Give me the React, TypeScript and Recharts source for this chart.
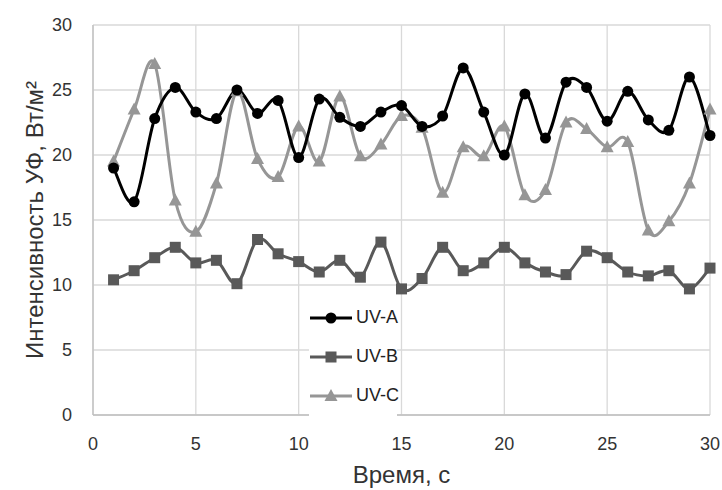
import { CartesianGrid, Legend, Line, LineChart, XAxis, YAxis } from "recharts";

const time = [1, 2, 3, 4, 5, 6, 7, 8, 9, 10, 11, 12, 13, 14, 15, 16, 17, 18, 19, 20, 21, 22, 23, 24, 25, 26, 27, 28, 29, 30];
const uvA = [19.0, 16.4, 22.8, 25.2, 23.3, 22.8, 25.0, 23.2, 24.2, 19.8, 24.3, 22.9, 22.2, 23.3, 23.8, 22.2, 23.0, 26.7, 23.3, 20.0, 24.7, 21.3, 25.6, 25.2, 22.6, 24.9, 22.7, 21.9, 26.0, 21.5];
const uvB = [10.4, 11.1, 12.1, 12.9, 11.7, 11.9, 10.1, 13.5, 12.4, 11.8, 11.0, 11.9, 10.6, 13.3, 9.7, 10.5, 12.9, 11.1, 11.7, 12.9, 11.7, 11.0, 10.8, 12.6, 12.1, 11.0, 10.7, 11.1, 9.7, 11.3];
const uvC = [19.5, 23.5, 27.0, 16.5, 14.1, 17.8, 24.9, 19.7, 18.3, 22.2, 19.5, 24.5, 19.9, 20.8, 23.0, 22.1, 17.1, 20.6, 19.9, 22.2, 16.9, 17.3, 22.5, 22.0, 20.6, 21.0, 14.2, 14.9, 17.8, 23.5];
const xTicks = [0, 5, 10, 15, 20, 25, 30];
const yTicks = [0, 5, 10, 15, 20, 25, 30];

const data = time.map((t, i) => ({ t, a: uvA[i], b: uvB[i], c: uvC[i] }));

const FONT = "'Liberation Sans', Arial, sans-serif";

// Excel-like smoothed line (Catmull-Rom style bezier)
function excelCurve(context: any) {
  let xs: number[] = [];
  let ys: number[] = [];
  return {
    areaStart() {},
    areaEnd() {},
    lineStart() {
      xs = [];
      ys = [];
    },
    point(x: number, y: number) {
      xs.push(+x);
      ys.push(+y);
    },
    lineEnd() {
      const n = xs.length;
      if (!n) return;
      context.moveTo(xs[0], ys[0]);
      for (let i = 0; i < n - 1; i++) {
        const p = i > 0 ? i - 1 : i;
        const q = i + 2 < n ? i + 2 : i + 1;
        const c1x = xs[i] + (xs[i + 1] - xs[p]) / 6;
        const c1y = ys[i] + (ys[i + 1] - ys[p]) / 6;
        const c2x = xs[i + 1] - (xs[q] - xs[i]) / 6;
        const c2y = ys[i + 1] - (ys[q] - ys[i]) / 6;
        context.bezierCurveTo(c1x, c1y, c2x, c2y, xs[i + 1], ys[i + 1]);
      }
    },
  };
}

const COLORS = { a: "#000000", b: "#595959", c: "#969696" };

function CircleDot({ cx, cy, fill }: any) {
  if (cx == null || cy == null) return null;
  return <circle cx={cx} cy={cy} r={5.5} fill={fill} />;
}

function SquareDot({ cx, cy, fill }: any) {
  if (cx == null || cy == null) return null;
  return <rect x={cx - 5.5} y={cy - 5.5} width={11} height={11} fill={fill} />;
}

function TriangleDot({ cx, cy, fill }: any) {
  if (cx == null || cy == null) return null;
  return <polygon points={`${cx},${cy - 7} ${cx + 6.5},${cy + 5} ${cx - 6.5},${cy + 5}`} fill={fill} />;
}

const legendItems = [
  { name: "UV-A", color: COLORS.a, Dot: CircleDot },
  { name: "UV-B", color: COLORS.b, Dot: SquareDot },
  { name: "UV-C", color: COLORS.c, Dot: TriangleDot },
];

function LegendBox() {
  return (
    <div style={{ background: "#fff", padding: "2px 0 4px 0", width: 88, whiteSpace: "nowrap" }}>
      {legendItems.map(({ name, color, Dot }) => (
        <div key={name} style={{ display: "flex", alignItems: "center", height: 39 }}>
          <svg width={47} height={20} style={{ flexShrink: 0 }}>
            <line x1={1} y1={10} x2={43} y2={10} stroke={color} strokeWidth={3} />
            <Dot cx={22} cy={10} fill={color} />
          </svg>
          <span style={{ fontFamily: FONT, fontSize: 18, color: "#222", whiteSpace: "nowrap" }}>{name}</span>
        </div>
      ))}
    </div>
  );
}

function YTitle({ viewBox }: any) {
  const x = viewBox.x + 34;
  const y = viewBox.y + viewBox.height / 2;
  return (
    <text x={x} y={y} transform={`rotate(-90 ${x} ${y})`} textAnchor="middle" dominantBaseline="central" fontFamily={FONT} fontSize={24} fill="#333">
      Интенсивность УФ, Вт/м²
    </text>
  );
}

function XTitle({ viewBox }: any) {
  return (
    <text x={viewBox.x + viewBox.width / 2} y={viewBox.y + 68} textAnchor="middle" fontFamily={FONT} fontSize={24} fill="#333">
      Время, с
    </text>
  );
}

export default function App() {
  return (
    <div style={{ position: "absolute", left: 0, top: 0, width: 722, height: 490, background: "#fff" }}>
      <LineChart width={722} height={490} data={data} margin={{ top: 25, right: 12, bottom: 0, left: 0 }}>
        <CartesianGrid stroke="#d9d9d9" strokeWidth={1.3} />
        <XAxis
          dataKey="t"
          type="number"
          domain={[0, 30]}
          ticks={xTicks}
          height={75}
          tickLine={false}
          tickSize={0}
          tickMargin={22}
          stroke="#bfbfbf"
          strokeWidth={1.3}
          tick={{ fontFamily: FONT, fontSize: 18, fill: "#333" }}
          label={<XTitle />}
        />
        <YAxis
          type="number"
          domain={[0, 30]}
          ticks={yTicks}
          width={93}
          tickLine={false}
          tickSize={0}
          tickMargin={21}
          stroke="#bfbfbf"
          strokeWidth={1.3}
          tick={{ fontFamily: FONT, fontSize: 18, fill: "#333" }}
          label={<YTitle />}
        />
        <Legend
          layout="vertical"
          align="center"
          verticalAlign="middle"
          content={() => <LegendBox />}
          wrapperStyle={{ left: 309, top: 296, width: 88 }}
        />
        <Line dataKey="c" name="UV-C" type={excelCurve as any} stroke={COLORS.c} strokeWidth={3} dot={<TriangleDot fill={COLORS.c} />} isAnimationActive={false} />
        <Line dataKey="b" name="UV-B" type={excelCurve as any} stroke={COLORS.b} strokeWidth={3} dot={<SquareDot fill={COLORS.b} />} isAnimationActive={false} />
        <Line dataKey="a" name="UV-A" type={excelCurve as any} stroke={COLORS.a} strokeWidth={3} dot={<CircleDot fill={COLORS.a} />} isAnimationActive={false} />
      </LineChart>
    </div>
  );
}
